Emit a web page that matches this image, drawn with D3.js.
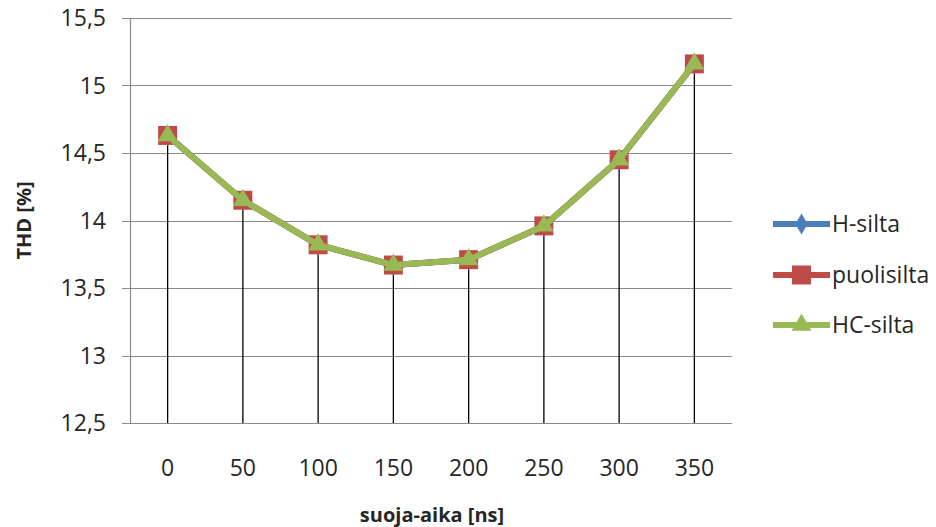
<!DOCTYPE html>
<html>
<head>
<meta charset="utf-8">
<script src="https://cdn.jsdelivr.net/npm/d3@7"></script>
<style>
  html, body { margin: 0; padding: 0; background: #fff; }
  svg { display: block; font-family: "Open Sans", sans-serif; }
</style>
</head>
<body>
<svg id="chart" width="936" height="527"></svg>
<script>
// Dead time (ns) categories
const categories = ["0", "50", "100", "150", "200", "250", "300", "350"];

// THD (%) per bridge topology
const hSilta      = [14.63, 14.15, 13.82, 13.67, 13.71, 13.96, 14.45, 15.16];
const puolisilta  = [14.63, 14.15, 13.82, 13.67, 13.71, 13.96, 14.45, 15.16];
const hcSilta     = [14.63, 14.15, 13.82, 13.67, 13.71, 13.96, 14.45, 15.16];

const yTicks = [12.5, 13, 13.5, 14, 14.5, 15, 15.5];
const seriesNames = ["H-silta", "puolisilta", "HC-silta"];

const series = [
  { name: seriesNames[0], values: hSilta,     color: "#4A7EBB", marker: "diamond" },
  { name: seriesNames[1], values: puolisilta, color: "#BE4B48", marker: "square" },
  { name: seriesNames[2], values: hcSilta,    color: "#98B954", marker: "triangle" }
];

const svg = d3.select("#chart");
const plot = { left: 130, right: 732, top: 18, bottom: 423 };

const x = d3.scaleBand().domain(categories).range([plot.left, plot.right]);
const y = d3.scaleLinear().domain([12.5, 15.5]).range([plot.bottom, plot.top]);
const cx = c => x(c) + x.bandwidth() / 2;

const fmt = v => String(v).replace(".", ",");
const textColor = "#262626";

// Horizontal gridlines with outer tick marks
svg.append("g").selectAll("line").data(yTicks).join("line")
  .attr("x1", plot.left - 8).attr("x2", plot.right)
  .attr("y1", d => Math.round(y(d)) + 0.5).attr("y2", d => Math.round(y(d)) + 0.5)
  .attr("stroke", "#8a8a8a").attr("stroke-width", 1.2);

// Vertical value axis line
svg.append("line")
  .attr("x1", plot.left + 0.5).attr("x2", plot.left + 0.5)
  .attr("y1", plot.top).attr("y2", plot.bottom)
  .attr("stroke", "#8a8a8a").attr("stroke-width", 1.2);

// Y tick labels
svg.append("g").selectAll("text").data(yTicks).join("text")
  .attr("x", 106).attr("y", d => y(d) + 8)
  .attr("text-anchor", "end")
  .attr("font-size", 23).attr("fill", textColor)
  .text(d => fmt(d));

// X tick labels
svg.append("g").selectAll("text").data(categories).join("text")
  .attr("x", d => cx(d)).attr("y", 476)
  .attr("text-anchor", "middle")
  .attr("font-size", 23).attr("fill", textColor)
  .text(d => d);

// Axis titles
svg.append("text")
  .attr("x", 432).attr("y", 522)
  .attr("text-anchor", "middle")
  .attr("font-size", 20).attr("font-weight", "bold").attr("fill", textColor)
  .text("suoja-aika [ns]");

svg.append("text")
  .attr("transform", `translate(31, ${(plot.top + plot.bottom) / 2}) rotate(-90)`)
  .attr("text-anchor", "middle")
  .attr("font-size", 20).attr("font-weight", "bold").attr("fill", textColor)
  .text("THD [%]");

// Drop lines from the highest point of each category to the category axis
const maxVals = categories.map((c, i) => d3.max(series, s => s.values[i]));
svg.append("g").selectAll("line").data(categories).join("line")
  .attr("x1", d => cx(d)).attr("x2", d => cx(d))
  .attr("y1", (d, i) => y(maxVals[i])).attr("y2", plot.bottom)
  .attr("stroke", "#000").attr("stroke-width", 1.3);

// Marker shapes
const symbolFor = {
  diamond: d3.symbol().type(d3.symbolDiamond).size(130),
  square: d3.symbol().type(d3.symbolSquare).size(360),
  triangle: d3.symbol().type(d3.symbolTriangle).size(170)
};

const line = d3.line().x((d, i) => cx(categories[i])).y(d => y(d));

series.forEach(s => {
  const g = svg.append("g");
  g.append("path")
    .attr("d", line(s.values))
    .attr("fill", "none")
    .attr("stroke", s.color)
    .attr("stroke-width", 6)
    .attr("stroke-linejoin", "round");
  g.selectAll("path.m").data(s.values).join("path")
    .attr("class", "m")
    .attr("transform", (d, i) => `translate(${cx(categories[i])},${y(d)})`)
    .attr("d", symbolFor[s.marker]())
    .attr("fill", s.color);
});

// Legend
const legendY = [224, 275, 325];
const lg = svg.append("g");
series.forEach((s, i) => {
  const ly = legendY[i];
  lg.append("line")
    .attr("x1", 773).attr("x2", 830).attr("y1", ly).attr("y2", ly)
    .attr("stroke", s.color).attr("stroke-width", 6);
  lg.append("path")
    .attr("transform", `translate(801.5,${ly})`)
    .attr("d", symbolFor[s.marker]())
    .attr("fill", s.color);
  lg.append("text")
    .attr("x", 832).attr("y", ly + 8)
    .attr("font-size", 23).attr("fill", textColor)
    .text(s.name);
});
</script>
</body>
</html>
